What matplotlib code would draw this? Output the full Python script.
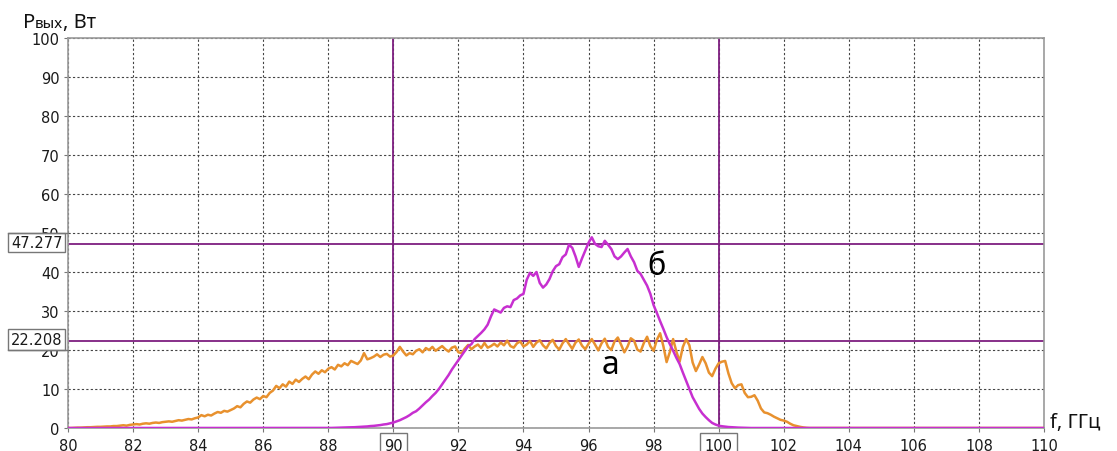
import numpy as np
import matplotlib
matplotlib.use("Agg")
import matplotlib.pyplot as plt
from matplotlib.patches import Rectangle
from matplotlib.transforms import blended_transform_factory

# кривая "а": 80.0 ... 103.0 ГГц с шагом 0.1
p_a = [
    0.0, 0.0, 0.05, 0.1, 0.1, 0.15, 0.2, 0.2, 0.25, 0.3, 0.3,
    0.35, 0.4, 0.4, 0.5, 0.5, 0.6, 0.7, 0.6, 0.8, 0.9,
    1.0, 0.9, 1.1, 1.2, 1.1, 1.3, 1.4, 1.3, 1.5, 1.6,
    1.7, 1.6, 1.8, 2.0, 1.9, 2.1, 2.3, 2.2, 2.5, 2.7,
    3.3, 3.0, 3.4, 3.2, 3.7, 4.1, 3.9, 4.4, 4.2, 4.6,
    5.0, 5.6, 5.3, 6.2, 6.8, 6.5, 7.3, 7.8, 7.4, 8.2,
    7.9, 9.0, 9.6, 10.8, 10.2, 11.2, 10.6, 11.9, 11.3, 12.4,
    11.8, 12.6, 13.2, 12.5, 13.7, 14.5, 13.9, 14.8, 14.3, 15.2,
    15.6, 15.0, 16.2, 15.8, 16.6, 16.1, 17.2, 16.8, 16.4, 17.3,
    19.2, 17.6, 17.9, 18.3, 18.9, 18.2, 18.8, 19.0, 18.3, 18.6,
    19.5, 20.8, 19.6, 18.6, 19.2, 18.9, 19.8, 20.2, 19.4, 20.5,
    20.0, 20.8, 19.8, 20.4, 21.0, 20.2, 19.6, 20.6, 20.9, 19.4,
    19.2, 20.4, 21.3, 20.2, 20.9, 21.4, 20.5, 21.8, 20.6, 21.0,
    21.6, 20.9, 21.9, 21.2, 22.4, 21.0, 20.6, 21.7, 22.2, 20.9,
    21.4, 22.3, 20.8, 21.9, 22.5, 21.2, 20.4, 21.8, 22.6, 21.0,
    20.1, 21.7, 22.8, 21.5, 20.3, 21.9, 22.7, 21.1, 20.2, 21.6,
    22.8, 21.4, 19.9, 21.7, 22.9, 20.8, 20.0, 22.2, 23.2, 21.4,
    19.4, 20.9, 23.0, 22.4, 20.1, 19.6, 21.8, 23.4, 21.0, 19.8,
    22.6, 24.3, 21.0, 16.9, 19.5, 22.8, 19.6, 17.0, 20.8, 22.8,
    21.2, 16.8, 14.6, 16.3, 18.2, 16.6, 14.2, 13.3, 15.2, 16.6,
    17.0, 17.2, 14.0, 11.5, 10.2, 11.0, 11.2, 9.0, 7.9, 8.0,
    8.4, 7.0, 5.0, 4.0, 3.8, 3.4, 2.9, 2.5, 2.1, 1.9,
    1.6, 1.1, 0.7, 0.5, 0.3, 0.15, 0.05, 0.0, 0.0, 0.0,
]
f_a_start, f_a_end = 80.0, 103.0

# кривая "б": 88.0 ... 101.0 ГГц с шагом 0.1
p_b = [
    0.0, 0.02, 0.05, 0.08, 0.1, 0.12, 0.15, 0.18, 0.2, 0.25, 0.3,
    0.35, 0.4, 0.5, 0.55, 0.65, 0.75, 0.9, 1.0, 1.2, 1.4,
    1.7, 2.0, 2.4, 2.8, 3.3, 3.9, 4.3, 5.0, 5.8, 6.6,
    7.3, 8.2, 9.0, 10.0, 11.2, 12.4, 13.6, 15.0, 16.2, 17.4,
    18.6, 19.8, 21.0, 21.5, 22.8, 23.6, 24.4, 25.3, 26.5, 28.6,
    30.4, 30.0, 29.6, 30.8, 31.2, 31.0, 32.8, 33.2, 34.0, 34.4,
    38.0, 39.8, 39.0, 40.0, 37.2, 36.0, 36.8, 38.2, 40.2, 41.5,
    42.0, 43.8, 44.5, 47.0, 46.2, 44.0, 41.3, 43.5, 45.5, 47.5,
    48.9, 47.2, 46.6, 46.4, 48.0, 47.0, 45.9, 44.0, 43.3, 44.0,
    45.0, 45.9, 44.0, 42.5, 40.3, 39.5, 38.0, 36.5, 34.4, 31.5,
    29.5, 27.4, 25.4, 23.3, 21.5, 19.8, 18.0, 16.4, 14.2, 12.1,
    10.0, 7.9, 6.4, 4.9, 3.7, 2.8, 2.0, 1.3, 0.9, 0.6,
    0.45, 0.35, 0.25, 0.2, 0.15, 0.1, 0.08, 0.05, 0.02, 0.0,
]
f_b_start, f_b_end = 88.0, 101.0

# маркеры (курсоры)
cursor_f = [90, 100]
cursor_p = [47.277, 22.208]

x_ticks = list(range(80, 111, 2))
y_ticks = list(range(0, 101, 10))

c_a = '#E8912E'
c_b = '#C72FD0'
c_cursor = '#7E1F80'
c_frame = '#9A9A9A'

f_a = np.round(np.linspace(f_a_start, f_a_end, len(p_a)), 2)
f_b = np.round(np.linspace(f_b_start, f_b_end, len(p_b)), 2)
# дополняем нулями до краёв диапазона
fa_full = np.concatenate([f_a, [110.0]])
pa_full = np.concatenate([p_a, [0.0]])
fb_full = np.concatenate([[80.0], f_b, [110.0]])
pb_full = np.concatenate([[0.0], p_b, [0.0]])

fig = plt.figure(figsize=(11.17, 4.52), dpi=100)
ax = fig.add_axes([68 / 1117, 23 / 452, 976 / 1117, 390 / 452])

ax.set_xlim(80, 110)
ax.set_ylim(0, 100)
ax.set_xticks(x_ticks)
ax.set_yticks(y_ticks)
ax.tick_params(axis='both', length=3, width=0.8, color='#777777',
               labelsize=10.5, labelcolor='#1a1a1a', pad=3)
ax.tick_params(axis='x', pad=4)

for s in ax.spines.values():
    s.set_color(c_frame)
    s.set_linewidth(1.2)

ax.grid(True, color='#444444', linestyle=(0, (2, 2)), linewidth=0.8)
ax.set_axisbelow(True)

# курсоры
for f in cursor_f:
    ax.axvline(f, color=c_cursor, linewidth=1.3, zorder=2)
for p in cursor_p:
    ax.axhline(p, color=c_cursor, linewidth=1.3, zorder=2)

ax.plot(fa_full, pa_full, color=c_a, linewidth=1.8, zorder=3)
ax.plot(fb_full, pb_full, color=c_b, linewidth=1.8, zorder=4)

ax.text(96.66, 16.4, 'а', fontsize=23, family='Noto Sans', ha='center', va='center')
ax.text(98.1, 41.5, 'б', fontsize=22, family='Noto Sans', ha='center', va='center')

# подписи значений курсоров по оси Y
tr = blended_transform_factory(ax.transAxes, ax.transData)
boxes = [(47.277, 45.1, 50.0, 50.0), (22.208, 20.0, 25.4, 20.0)]
for val, y0, y1, yext in boxes:
    ax.add_patch(Rectangle((-0.0615, y0), 0.0585, y1 - y0, transform=tr,
                           facecolor='white', edgecolor='#777777',
                           linewidth=1.0, clip_on=False, zorder=10))
    ax.plot([-0.0615, 0.0], [yext, yext], transform=tr, color='#777777',
            linewidth=1.0, clip_on=False, zorder=10)
    ax.text(-0.032, (y0 + y1) / 2, f'{val:.3f}', transform=tr, fontsize=10.5,
            color='#1a1a1a', ha='center', va='center', zorder=11)

# рамки у значений курсоров по оси X
fig.canvas.draw()
for lbl in ax.get_xticklabels():
    if lbl.get_text() in ('90', '100'):
        lbl.set_bbox(dict(facecolor='white', edgecolor='#777777',
                          boxstyle='square,pad=0.3', linewidth=1.0))

# подпись оси Y: P с уменьшенным "вых"
renderer = fig.canvas.get_renderer()
x0 = 23 / 1117
yb = 1 - 28 / 452
parts = [('P', 14.5), ('вых', 11), (', Вт', 14.5)]
for txt, size in parts:
    t = fig.text(x0, yb, txt, fontsize=size, family='Noto Sans',
                 va='baseline', ha='left', color='#111111')
    bb = t.get_window_extent(renderer=renderer)
    x0 += bb.width / fig.bbox.width

fig.text(1050 / 1117, 1 - 423 / 452, 'f, ГГц', fontsize=14.5, family='Noto Sans',
         va='center', ha='left', color='#111111')

fig.savefig('out.png', dpi=100)
